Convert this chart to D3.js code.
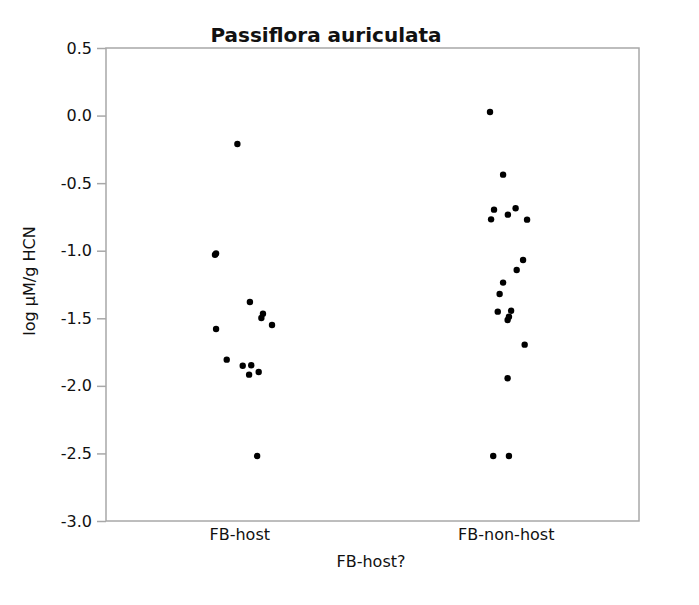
<!DOCTYPE html>
<html>
<head>
<meta charset="utf-8">
<script src="https://cdn.jsdelivr.net/npm/d3@7/dist/d3.min.js"></script>
<style>
  html, body { margin: 0; padding: 0; background: #fff; }
  svg { display: block; }
  text { font-family: "DejaVu Sans", Verdana, sans-serif; fill: #111; }
</style>
</head>
<body>
<svg id="chart" width="699" height="605"></svg>
<script>
// ---- data ----
const categories = ["FB-host", "FB-non-host"];
const hostValues = [-0.21, -1.02, -1.03, -1.38, -1.466, -1.498, -1.55, -1.579, -1.806, -1.851, -1.848, -1.917, -1.897, -2.519];
const hostJitter = [-0.007, -0.087, -0.091, 0.040, 0.089, 0.083, 0.123, -0.087, -0.047, 0.013, 0.045, 0.037, 0.073, 0.067];
const nonHostValues = [0.026, -0.437, -0.696, -0.686, -0.733, -0.768, -0.770, -1.069, -1.143, -1.236, -1.320, -1.451, -1.444, -1.488, -1.513, -1.695, -1.944, -2.519, -2.519];
const nonHostJitter = [-0.059, -0.010, -0.044, 0.037, 0.008, -0.055, 0.080, 0.065, 0.041, -0.010, -0.023, -0.030, 0.020, 0.012, 0.007, 0.071, 0.007, -0.047, 0.012];
const yTicks = [0.5, 0.0, -0.5, -1.0, -1.5, -2.0, -2.5, -3.0];
const title = "Passiflora auriculata";
const xTitle = "FB-host?";
const yTitle = "log μM/g HCN";

// ---- layout ----
const m = { left: 106, right: 639, top: 48, bottom: 521 };
const svg = d3.select("#chart");

const x = d3.scalePoint().domain(categories).range([m.left, m.right]).padding(0.5);
const step = x.step();
const y = d3.scaleLinear().domain([-3.0, 0.5]).range([m.bottom, m.top]);

const points = [];
hostValues.forEach((v, i) => points.push({ cat: categories[0], v, j: hostJitter[i] }));
nonHostValues.forEach((v, i) => points.push({ cat: categories[1], v, j: nonHostJitter[i] }));

// frame
svg.append("rect")
  .attr("x", m.left).attr("y", m.top)
  .attr("width", m.right - m.left).attr("height", m.bottom - m.top)
  .attr("fill", "none").attr("stroke", "#a8a8a8").attr("stroke-width", 1.5);

// y axis
const yAxis = d3.axisLeft(y).tickValues(yTicks).tickFormat(d3.format(".1f")).tickSize(9).tickPadding(5);
const gy = svg.append("g").attr("transform", `translate(${m.left},0)`).call(yAxis);
gy.select(".domain").remove();
gy.selectAll(".tick line").attr("stroke", "#a8a8a8").attr("stroke-width", 1.5);
gy.selectAll(".tick text")
  .style("font-family", '"DejaVu Sans", Verdana, sans-serif')
  .style("font-size", "16px").attr("fill", "#222")
  .text(d => d3.format(".1f")(d).replace("−", "-"));

// x axis
const xAxis = d3.axisBottom(x).tickSize(0).tickPadding(8);
const gx = svg.append("g").attr("transform", `translate(0,${m.bottom})`).call(xAxis);
gx.select(".domain").remove();
gx.selectAll(".tick text")
  .style("font-family", '"DejaVu Sans", Verdana, sans-serif')
  .style("font-size", "16px").attr("fill", "#222");

// points
svg.append("g").selectAll("circle").data(points).join("circle")
  .attr("cx", d => x(d.cat) + d.j * step)
  .attr("cy", d => y(d.v))
  .attr("r", 3.2)
  .attr("fill", "#000");

// titles
svg.append("text").attr("x", 326).attr("y", 42).attr("text-anchor", "middle")
  .style("font-size", "20px").style("font-weight", "bold").text(title);
svg.append("text").attr("x", 371).attr("y", 567).attr("text-anchor", "middle")
  .style("font-size", "16px").attr("fill", "#222").text(xTitle);
svg.append("text").attr("transform", `translate(35,281) rotate(-90)`)
  .attr("text-anchor", "middle").style("font-size", "16px").attr("fill", "#222").text(yTitle);
</script>
</body>
</html>
